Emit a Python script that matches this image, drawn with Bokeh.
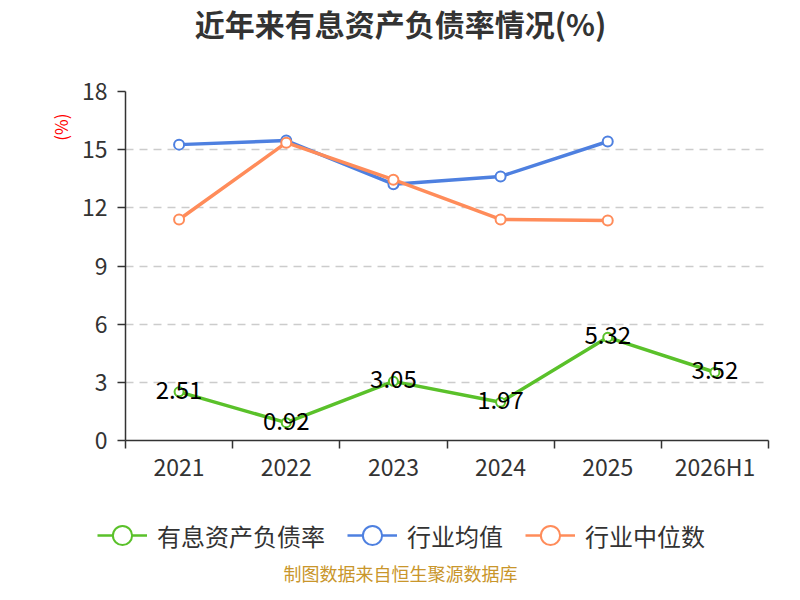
import math
from bokeh.plotting import figure
from bokeh.layouts import column
from bokeh.models import Range1d, FixedTicker, Legend, LegendItem, ColumnDataSource, Title, Label
from bokeh.embed import file_html
from bokeh.resources import INLINE
from bokeh.core.properties import value

# ---- data ----
categories = ["2021", "2022", "2023", "2024", "2025", "2026H1"]
debt_ratio = [2.51, 0.92, 3.05, 1.97, 5.32, 3.52]          # 有息资产负债率
industry_mean = [15.26, 15.47, 13.22, 13.62, 15.42]          # 行业均值
industry_median = [11.40, 15.36, 13.45, 11.40, 11.35]        # 行业中位数
y_ticks = [0, 3, 6, 9, 12, 15, 18]

title_text = "近年来有息资产负债率情况(%)"
unit_text = "(%)"
footer_text = "制图数据来自恒生聚源数据库"
series_names = ["有息资产负债率", "行业均值", "行业中位数"]

FONT = "Noto Sans CJK SC"
GREEN, BLUE, ORANGE = "#5ac12a", "#4e80e0", "#ff8c5a"
W = 784
H_TOP, H_MAIN, H_LEG = 50, 440, 94
FL, FR, FT, FB = 125, 768, 91, 440   # frame edges in canvas px


def strip(h):
    f = figure(width=W, height=h, output_backend="svg", toolbar_location=None, title=None,
               x_range=Range1d(0, W), y_range=Range1d(0, h),
               x_axis_location=None, y_axis_location=None,
               min_border_left=0, min_border_right=0, min_border_top=0, min_border_bottom=0)
    f.outline_line_color = None
    f.xgrid.visible = False
    f.ygrid.visible = False
    f.background_fill_color = "white"
    f.border_fill_color = "white"
    return f


xs = [i + 0.5 for i in range(len(categories))]

# ---- title strip ----
t = strip(H_TOP)
t.add_layout(Label(x=400, y=H_TOP - 22, x_units="screen", y_units="screen", text=title_text,
                   text_align="center", text_baseline="middle", text_font=FONT,
                   text_font_size="30px", text_font_style="bold", text_color="#333333"))

# ---- main chart ----
p = figure(width=W, height=H_MAIN, output_backend="svg", toolbar_location=None, title=None,
           x_range=Range1d(0, len(categories)), y_range=Range1d(y_ticks[0], y_ticks[-1]),
           min_border_left=FL, min_border_right=W - FR, min_border_top=FT - H_TOP,
           min_border_bottom=H_TOP + H_MAIN - FB)
p.outline_line_color = None
p.background_fill_color = "white"
p.border_fill_color = "white"

# x axis: labels at category centres, ticks at category boundaries
xa = p.xaxis[0]
xa.ticker = FixedTicker(ticks=xs, minor_ticks=list(range(len(categories) + 1)))
xa.major_label_overrides = {x: c for x, c in zip(xs, categories)}
xa.major_tick_line_color = None
xa.major_tick_out = 0
xa.major_tick_in = 0
xa.minor_tick_out = 8
xa.minor_tick_in = 0
xa.minor_tick_line_color = "#333333"
xa.minor_tick_line_width = 1.5
xa.axis_line_color = "#333333"
xa.axis_line_width = 1.5
xa.major_label_text_font = FONT
xa.major_label_text_font_size = "23px"
xa.major_label_text_color = "#333333"
xa.major_label_standoff = 0

ya = p.yaxis[0]
ya.ticker = FixedTicker(ticks=y_ticks, minor_ticks=[])
ya.major_tick_out = 8
ya.major_tick_in = 0
ya.major_tick_line_color = "#333333"
ya.major_tick_line_width = 1.5
ya.axis_line_color = "#333333"
ya.axis_line_width = 1.5
ya.major_label_text_font = FONT
ya.major_label_text_font_size = "23px"
ya.major_label_text_color = "#333333"
ya.major_label_standoff = 10

p.xgrid.grid_line_color = None
p.ygrid.ticker = FixedTicker(ticks=y_ticks[1:])
p.ygrid.grid_line_color = "#cccccc"
p.ygrid.grid_line_dash = "8 6"
p.ygrid.grid_line_width = 1.5

n_ind = len(industry_mean)
src_d = ColumnDataSource(dict(x=xs, y=debt_ratio, t=[f"{v:.2f}" for v in debt_ratio]))
src_m = ColumnDataSource(dict(x=xs[:n_ind], y=industry_mean))
src_md = ColumnDataSource(dict(x=xs[:n_ind], y=industry_median))

p.line("x", "y", source=src_m, line_color=BLUE, line_width=3.5)
p.scatter("x", "y", source=src_m, size=10, fill_color="white", line_color=BLUE, line_width=2)
p.line("x", "y", source=src_md, line_color=ORANGE, line_width=3.5)
p.scatter("x", "y", source=src_md, size=10, fill_color="white", line_color=ORANGE, line_width=2)
p.line("x", "y", source=src_d, line_color=GREEN, line_width=3.5)
p.scatter("x", "y", source=src_d, size=9, fill_color="white", line_color=GREEN, line_width=2)
p.text("x", "y", text="t", source=src_d, text_align="center", text_baseline="middle",
       y_offset=-2, text_font=value(FONT), text_font_size="24px", text_color="black")

# unit label (left, near the top of the axis)
p.add_layout(Title(text=unit_text, align="right", offset=22, standoff=12,
                   text_font=FONT, text_font_size="17px", text_font_style="normal",
                   text_color="#ff0000"), "left")

# ---- legend + footer strip ----
q = strip(H_LEG)
items = []
for name, col in zip(series_names, [GREEN, BLUE, ORANGE]):
    proxy = ColumnDataSource(dict(x=[float("nan")], y=[float("nan")]))
    r1 = q.line("x", "y", source=proxy, line_color=col, line_width=2.5)
    r2 = q.scatter("x", "y", source=proxy, size=10, fill_color="white", line_color=col, line_width=2)
    items.append(LegendItem(label=name, renderers=[r1, r2]))

legend = Legend(items=items, orientation="horizontal", location=(97, 25),
                glyph_width=50, glyph_height=48, label_standoff=10, spacing=22,
                padding=0, margin=0, border_line_color=None, background_fill_alpha=0,
                label_text_font=FONT, label_text_font_size="24px", label_text_color="#333333")
q.add_layout(legend)

q.add_layout(Label(x=400, y=12, x_units="screen", y_units="screen", text=footer_text,
                   text_align="center", text_baseline="middle", text_font=FONT,
                   text_font_size="18px", text_color="#c9962b"))

for f in (t, p, q):
    try:
        f.frame_align = False
    except Exception:
        pass

layout = column(t, p, q, spacing=0)
open("out.html", "w").write(file_html(layout, INLINE))
